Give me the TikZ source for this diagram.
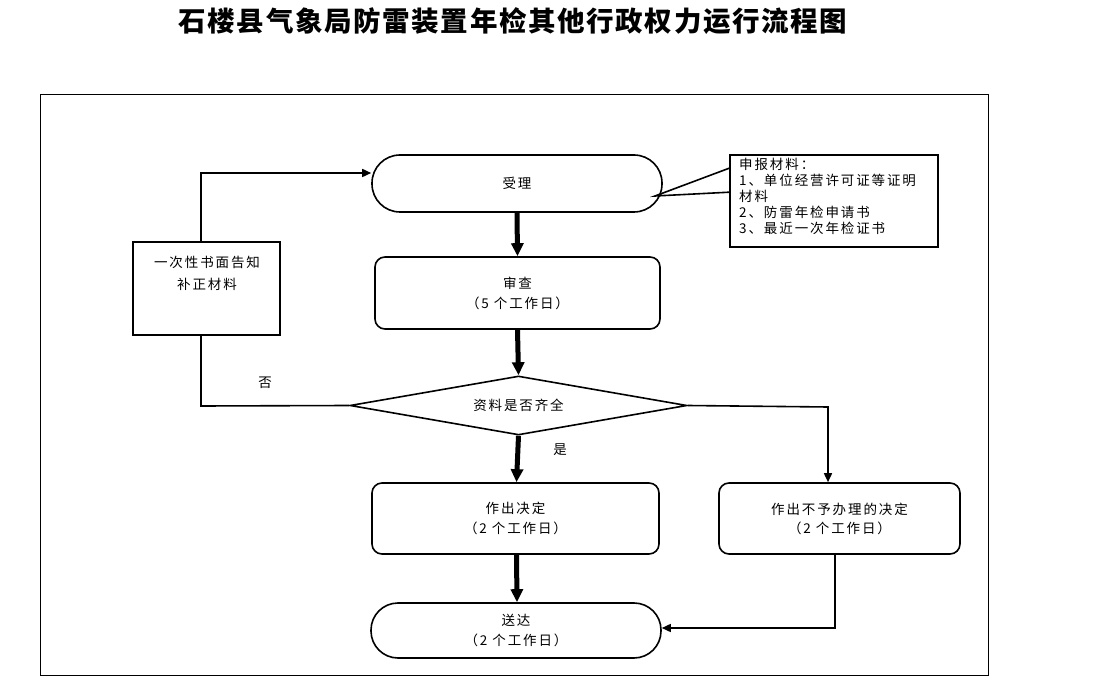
\documentclass[tikz,border=0pt]{standalone}
\usepackage{fontspec}
\setmainfont{Noto Sans CJK SC}
\newfontfamily\boxfont[LetterSpace=14]{Noto Sans CJK SC}
\newfontfamily\titlefont[LetterSpace=6]{Noto Sans CJK SC}
\usetikzlibrary{shapes.geometric,arrows.meta,calc}
\tikzset{
  boxline/.style={draw=black,line width=1.6pt},
  procbox/.style={boxline,rectangle,rounded corners=10pt,fill=white,align=center,font=\boxfont\fontsize{13.5}{20}\selectfont},
  stadium/.style={boxline,rectangle,rounded corners=27pt,fill=white,align=center,font=\boxfont\fontsize{13.5}{20}\selectfont},
  thickarrow/.style={line width=5pt,-{Triangle[length=13pt,width=12pt]}},
  thinarrow/.style={line width=1.6pt,-{Triangle[length=9pt,width=8pt]}},
  thinline/.style={line width=1.6pt},
  lbl/.style={font=\boxfont\fontsize{13.5}{16}\selectfont,inner sep=0pt}
}
\begin{document}
\begin{tikzpicture}[x=1pt,y=-1pt]
\useasboundingbox (0,0) rectangle (1101,676);
% title
\node[font=\titlefont\fontsize{27.5}{30}\selectfont\bfseries,inner sep=0pt] (title) at (513,21) {石楼县气象局防雷装置年检其他行政权力运行流程图};
% frame
\draw[line width=1pt] (40,95) rectangle (988,675);
% nodes
\node[stadium,minimum width=290pt,minimum height=57pt,rounded corners=28pt] (shouli) at (517,183.5) {受理};
\node[procbox,minimum width=285pt,minimum height=72pt] (shencha) at (517.5,293) {审查\\（5 个工作日）};
\node[boxline,diamond,shape aspect=5.7,minimum width=337pt,minimum height=59pt,inner sep=0pt,font=\boxfont\fontsize{13.5}{16}\selectfont] (ziliao) at (518.5,405.5) {资料是否齐全};
\node[procbox,minimum width=287pt,minimum height=71pt] (jueding) at (515.5,518.5) {作出决定\\（2 个工作日）};
\node[procbox,minimum width=241pt,minimum height=71pt] (buyu) at (839.5,518.5) {\raisebox{4pt}{\parbox{230pt}{\centering 作出不予办理的决定\\[-1pt]（2 个工作日）}}};
\node[stadium,minimum width=290pt,minimum height=55pt] (songda) at (516,630.5) {送达\\（2 个工作日）};
\node[boxline,rectangle,minimum width=147pt,minimum height=93pt] (buzheng) at (206.5,288.5) {};
\node[lbl,align=center,font=\boxfont\fontsize{13.5}{22}\selectfont] (buzhengtxt) at (207,273) {一次性书面告知\\补正材料};
% callout
\node[boxline,rectangle,minimum width=208pt,minimum height=92pt] (callout) at (834,201) {};
\node[lbl,anchor=north west,align=left,font=\boxfont\fontsize{13.5}{16}\selectfont] (callouttxt) at (739,158) {申报材料：\\1、单位经营许可证等证明\\材料\\2、防雷年检申请书\\3、最近一次年检证书};
\coordinate (tip) at (655,196);
\draw[thinline] ($(callout.north west)+(0,14)$) -- (tip) -- ($(callout.north west)+(0,38)$);
% thick arrows
\draw[thickarrow] (shouli.south) -- (shencha.north);
\draw[thickarrow] (shencha.south) -- (ziliao.north);
\draw[thickarrow] (ziliao.south) -- ([xshift=1pt]jueding.north);
\draw[thickarrow] ([xshift=1pt]jueding.south) -- ([xshift=1pt]songda.north);
% loop back
\coordinate (lt) at (201,173);
\coordinate (lb) at (201,406);
\draw[thinarrow] ([xshift=-5.5pt]buzheng.north) -- (lt) -- (shouli.west |- lt);
\draw[thinline] (ziliao.west) -- (lb) -- ([xshift=-5.5pt]buzheng.south);
\node[lbl] (fou) at (265,383) {否};
\node[lbl] (shi) at (560,450) {是};
% right branch
\coordinate (rt) at (828,407);
\draw[thinarrow] (ziliao.east) -- (rt) -- (rt |- buyu.north);
\coordinate (rb) at (835,628);
\draw[thinarrow] (rb |- buyu.south) -- (rb) -- (songda.east |- rb);
\end{tikzpicture}
\end{document}
